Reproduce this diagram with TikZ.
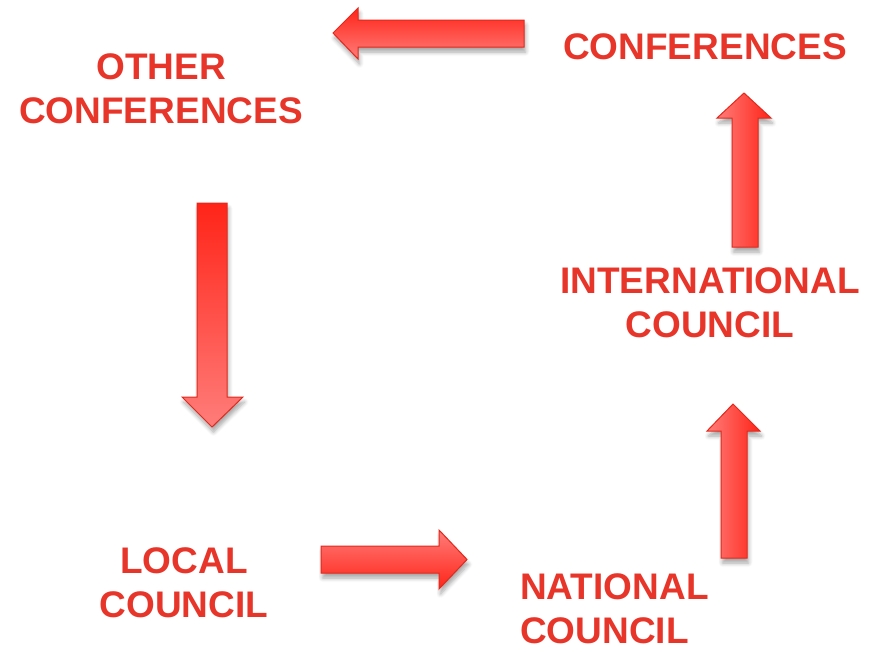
\documentclass[tikz,border=0pt]{standalone}
\usepackage{fontspec}
\setmainfont{Liberation Sans}
\usetikzlibrary{shadows.blur}
\definecolor{txtred}{HTML}{E8352A}
\definecolor{arrdark}{HTML}{FF2418}
\definecolor{arrlight}{HTML}{FF7D7A}
\definecolor{arredge}{HTML}{E3281C}
\tikzset{
  lbl/.style={text=txtred, font=\bfseries\fontsize{37}{44}\selectfont, inner sep=0pt, anchor=base},
  blockarrow/.style={draw=arredge, line width=1pt, line join=miter,
    blur shadow={shadow xshift=1.5pt, shadow yshift=-5pt, shadow blur steps=6, shadow opacity=35, shadow blur radius=4pt}},
}
\begin{document}
\begin{tikzpicture}[x=1pt,y=-1pt]
\useasboundingbox (0,0) rectangle (874,651);
% arrow: conferences -> other conferences (left)
\path[blockarrow, top color=arrdark, bottom color=arrlight]
  (524,20) -- (358,20) -- (358,8) -- (333,33) -- (358,59) -- (358,47) -- (524,47) -- cycle;
% arrow: other conferences -> local council (down)
\path[blockarrow, top color=arrdark, bottom color=arrlight]
  (197,203) -- (227,203) -- (227,397) -- (243,397) -- (212,427) -- (182,397) -- (197,397) -- cycle;
% arrow: local council -> national council (right)
\path[blockarrow, top color=arrlight, bottom color=arrdark]
  (321,546) -- (439,546) -- (439,530) -- (467,559.5) -- (439,589) -- (439,573) -- (321,573) -- cycle;
% arrow: national council -> international council (up)
\path[blockarrow, left color=arrlight, right color=arrdark]
  (721,558) -- (721,431) -- (707,431) -- (733,404) -- (760,431) -- (747,431) -- (747,558) -- cycle;
% arrow: international council -> conferences (up)
\path[blockarrow, left color=arrlight, right color=arrdark]
  (732,247) -- (732,118) -- (717,118) -- (744,93) -- (771,118) -- (758,118) -- (758,247) -- cycle;
% labels (anchor = baseline of last line)
\node[lbl, align=center] (conf) at (705,59) {CONFERENCES};
\node[lbl, align=center] (other) at (161,123) {OTHER\\CONFERENCES};
\node[lbl, align=center] (intl) at (710,337) {INTERNATIONAL\\COUNCIL};
\node[lbl, align=center] (local) at (184,617) {LOCAL\\COUNCIL};
\node[lbl, align=left, anchor=base west] (natl) at (520,643) {NATIONAL\\COUNCIL};
\end{tikzpicture}
\end{document}
